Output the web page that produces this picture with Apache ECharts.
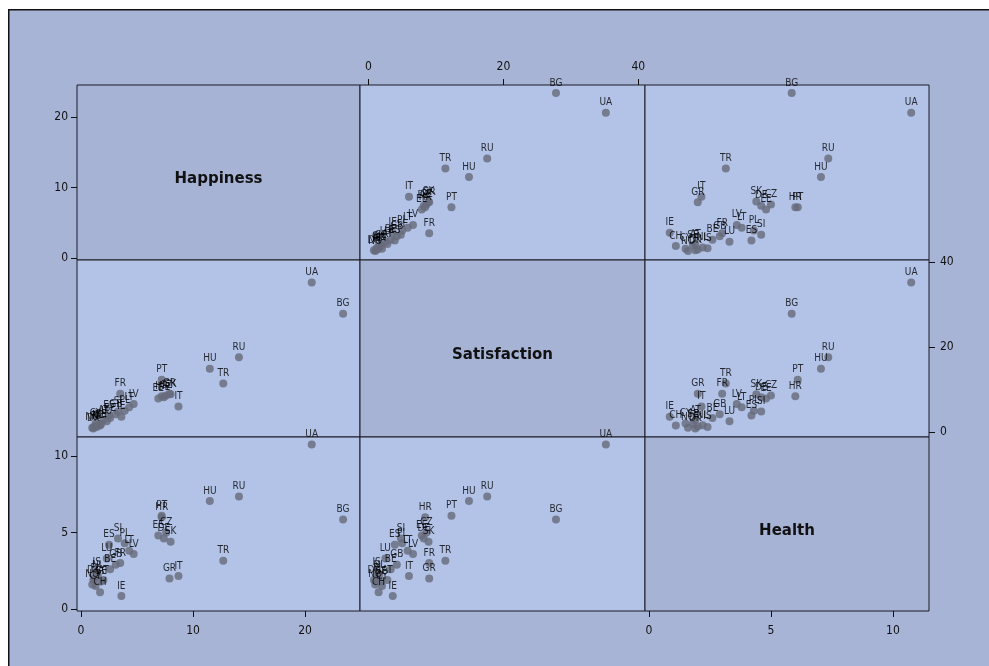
<!DOCTYPE html>
<html>
<head>
<meta charset="utf-8">
<script src="https://cdn.jsdelivr.net/npm/echarts@6/dist/echarts.min.js"></script>
<style>
  html, body { margin: 0; padding: 0; background: #ffffff; }
  #chart { width: 989px; height: 666px; }
</style>
</head>
<body>
<div id="chart"></div>
<script>
// Country codes and the three indicators
const countries = ['UA','BG','RU','HU','TR','PT','HR','IT','GR','FR','DE','CZ','EE','SK','LV','LT','PL','SI','ES','GB','IE','AT','CY','BE','CH','DK','NL','FI','SE','NO','IS','LU'];
const happiness    = [20.6, 23.4, 14.1, 11.5, 12.7, 7.2, 7.2, 8.7, 7.9, 3.5, 7.4, 7.6, 6.9, 8.0, 4.7, 4.3, 3.9, 3.3, 2.5, 3.1, 3.6, 2.0, 1.3, 2.6, 1.7, 1.1, 1.5, 1.2, 1.8, 1.0, 1.4, 2.3];
const satisfaction = [35.2, 27.8, 17.6, 14.9, 11.4, 12.3, 8.4, 6.0, 9.0, 9.0, 8.2, 8.6, 7.9, 8.9, 6.6, 5.8, 5.0, 4.8, 3.9, 4.2, 3.6, 2.8, 2.0, 3.3, 1.5, 0.8, 1.6, 1.3, 1.9, 1.0, 1.2, 2.5];
const health       = [10.75, 5.85, 7.35, 7.05, 3.15, 6.1, 6.0, 2.15, 2.0, 3.0, 4.6, 5.0, 4.8, 4.4, 3.6, 3.8, 4.3, 4.6, 4.2, 2.9, 0.85, 1.9, 1.5, 2.6, 1.1, 1.9, 2.2, 2.0, 1.8, 1.6, 2.4, 3.3];

const varNames = ['Happiness', 'Satisfaction', 'Health'];
const tickValues = [[0, 10, 20], [0, 20, 40], [0, 5, 10]];
const variables = [happiness, satisfaction, health];

// Panel layout (pixel edges of the 3x3 matrix)
const colEdges = [77, 360, 645, 929];
const rowEdges = [85, 260, 437, 611];
// Axis extents per variable when used horizontally / vertically
const xExtent = [[-0.36, 24.91], [-1.26, 41.0], [-0.164, 11.48]];
const yExtent = [[-0.28, 24.54], [-1.18, 40.47], [-0.13, 11.24]];

const outerBg = '#a8b4d5';
const panelBg = '#b2c3e7';
const diagBg = '#a7b3d5';
const markColor = '#666a7a';
const fontFam = '"DejaVu Sans Condensed", "DejaVu Sans", sans-serif';

const grids = [], xAxes = [], yAxes = [], series = [], texts = [];

function axisStyle(show, vals, margin) {
  return {
    axisLine: { show: false, onZero: false },
    splitLine: { show: false },
    axisTick: { show: show, length: 6, inside: false, customValues: vals, lineStyle: { color: '#111', width: 1 } },
    axisLabel: { show: show, customValues: vals, color: '#111', fontSize: 12, fontFamily: fontFam, margin: margin }
  };
}

let gi = 0;
for (let r = 0; r < 3; r++) {
  for (let c = 0; c < 3; c++) {
    const left = colEdges[c], top = rowEdges[r];
    const w = colEdges[c + 1] - left, h = rowEdges[r + 1] - top;
    grids.push({
      left: left, top: top, width: w, height: h,
      show: true, backgroundColor: r === c ? diagBg : panelBg,
      borderColor: '#1b1b22', borderWidth: 1
    });
    const showX = (r === 2 && (c === 0 || c === 2)) || (r === 0 && c === 1);
    const showY = (c === 0 && (r === 0 || r === 2)) || (c === 2 && r === 1);
    xAxes.push(Object.assign({
      type: 'value', gridIndex: gi, min: xExtent[c][0], max: xExtent[c][1],
      position: r === 0 ? 'top' : 'bottom'
    }, axisStyle(showX, tickValues[c], r === 0 ? 12 : 14)));
    yAxes.push(Object.assign({
      type: 'value', gridIndex: gi, min: yExtent[r][0], max: yExtent[r][1],
      position: c === 2 ? 'right' : 'left'
    }, axisStyle(showY, tickValues[r], c === 2 ? 11 : 9)));

    if (r === c) {
      texts.push({
        type: 'text', x: left + w / 2, y: top + h / 2 + 7, z: 10,
        style: {
          text: varNames[r], fill: '#111', font: 'bold 15px "DejaVu Sans", sans-serif',
          textAlign: 'center', textVerticalAlign: 'middle'
        }
      });
    } else {
      const xs = variables[c], ys = variables[r];
      series.push({
        type: 'scatter', xAxisIndex: gi, yAxisIndex: gi,
        symbol: 'circle', symbolSize: 8,
        itemStyle: { color: markColor },
        label: {
          show: true, position: 'top', distance: 1, formatter: '{b}',
          color: '#000', fontSize: 10, fontFamily: fontFam
        },
        labelLayout: { hideOverlap: false },
        data: countries.map((name, i) => ({ name: name, value: [xs[i], ys[i]] })),
        silent: true, animation: false
      });
    }
    gi++;
  }
}

const chart = echarts.init(document.getElementById('chart'), null, { renderer: 'canvas' });
chart.setOption({
  backgroundColor: '#ffffff',
  animation: false,
  graphic: [
    {
      type: 'rect', left: 8, top: 9, z: -10,
      shape: { width: 1000, height: 700 },
      style: { fill: outerBg, stroke: '#111', lineWidth: 1.5 }
    }
  ].concat(texts),
  grid: grids,
  xAxis: xAxes,
  yAxis: yAxes,
  series: series
});
</script>
</body>
</html>
